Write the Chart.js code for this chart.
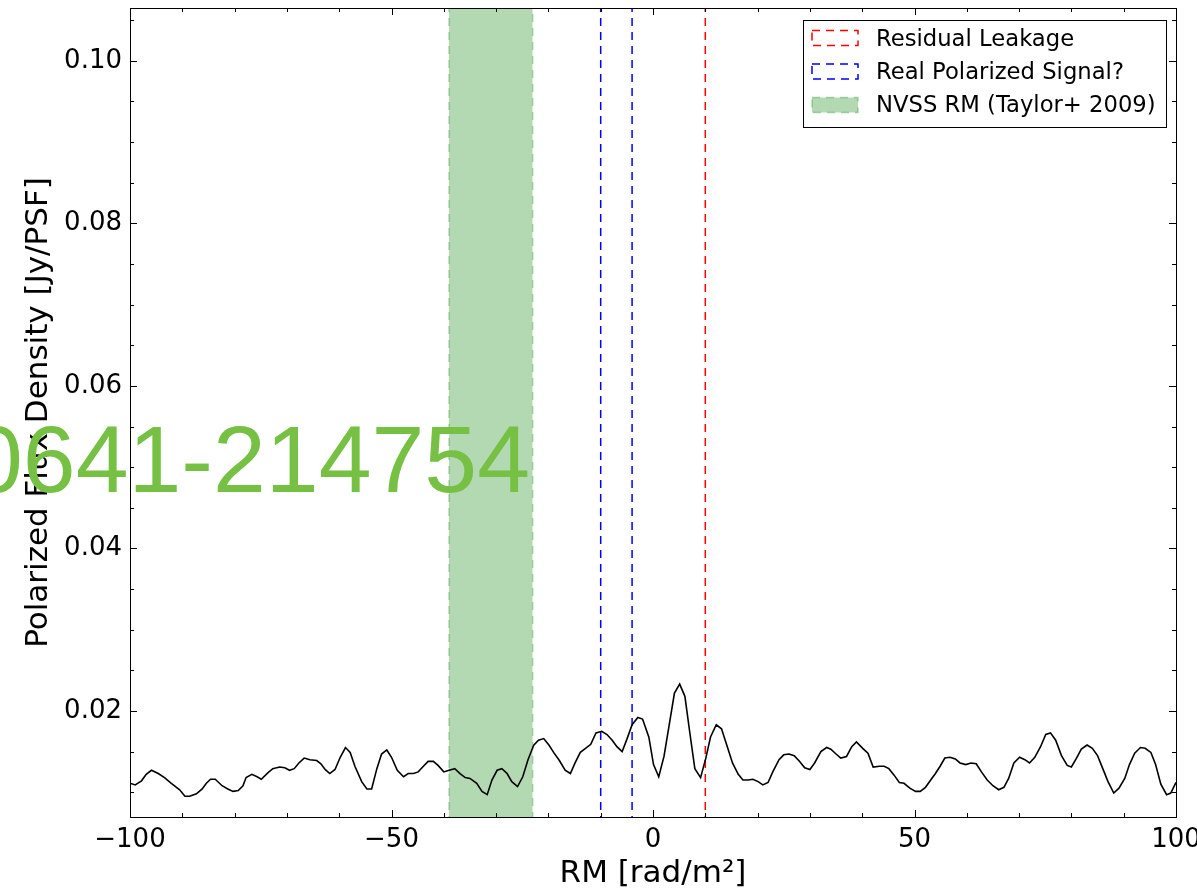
<!DOCTYPE html>
<html>
<head>
<meta charset="utf-8">
<title>RM spectrum</title>
<script src="https://cdn.jsdelivr.net/npm/chart.js@4.4.0/dist/chart.umd.min.js"></script>
<style>
  html, body { margin: 0; padding: 0; background: #fff; }
  #wrap { width: 1197px; height: 896px; }
</style>
</head>
<body>
<div id="wrap"><canvas id="rmChart" width="1197" height="896"></canvas></div>
<script>
// Faraday spectrum: RM [rad/m^2] vs polarized flux density [Jy/PSF]
const rmSamples = [
  -100.0, -99.0, -97.8, -96.9, -95.9, -94.6, -93.4, -92.1, -90.5, -89.5,
  -88.6, -87.3, -86.2, -85.4, -84.6, -83.7, -82.4, -81.3, -80.3, -79.3,
  -78.4, -77.8, -76.7, -75.7, -74.9, -73.6, -72.7, -71.4, -70.4, -69.5,
  -68.6, -67.7, -66.7, -65.6, -64.3, -63.5, -62.7, -61.8, -60.8, -59.8,
  -58.8, -57.9, -57.0, -55.7, -54.7, -53.8, -52.8, -51.9, -50.9, -50.0,
  -48.9, -47.7, -46.8, -45.8, -44.9, -43.9, -43.0, -42.0, -41.1, -40.0,
  -39.0, -37.9, -36.9, -35.9, -35.0, -33.7, -32.7, -31.7, -30.8, -29.8,
  -28.9, -27.9, -27.0, -25.9, -24.9, -23.9, -22.8, -21.9, -20.9, -19.9,
  -19.0, -17.9, -16.8, -15.8, -14.9, -13.9, -12.9, -11.9, -10.9, -9.8,
  -8.8, -7.8, -6.9, -5.9, -5.0, -4.0, -2.9, -2.0, -0.8, 0.1,
  1.1, 2.1, 3.1, 4.1, 5.1, 6.1, 7.0, 8.0, 9.1, 10.1,
  11.0, 12.1, 13.1, 14.1, 15.2, 16.3, 17.2, 18.2, 19.1, 20.1,
  21.0, 22.0, 22.9, 24.1, 25.0, 26.0, 27.0, 28.0, 29.0, 30.0,
  30.9, 32.1, 33.2, 34.0, 35.0, 35.9, 37.0, 38.0, 38.9, 40.1,
  41.1, 42.1, 43.3, 44.2, 45.1, 46.1, 47.1, 48.0, 49.1, 50.2,
  51.1, 52.1, 53.0, 54.0, 54.9, 55.8, 56.8, 57.8, 58.7, 59.8,
  60.8, 61.8, 62.8, 63.9, 65.0, 66.1, 67.1, 68.0, 69.0, 70.1,
  71.1, 72.0, 73.0, 74.1, 75.1, 76.0, 77.0, 78.1, 79.2, 80.0,
  80.9, 81.9, 83.0, 84.0, 85.0, 86.0, 87.0, 88.1, 89.1, 90.2,
  91.1, 92.1, 93.2, 94.1, 95.2, 96.1, 97.1, 98.2, 99.0, 100.0
];
const fluxSamples = [
  0.0111, 0.0109, 0.0114, 0.0122, 0.0127, 0.0123, 0.0118, 0.0111, 0.0103, 0.0095,
  0.0095, 0.0098, 0.0104, 0.0111, 0.0116, 0.0116, 0.0108, 0.0104, 0.0101, 0.0102,
  0.0108, 0.0118, 0.0122, 0.0119, 0.0116, 0.0124, 0.0129, 0.0131, 0.0130, 0.0127,
  0.0129, 0.0136, 0.0142, 0.0140, 0.0139, 0.0135, 0.0128, 0.0123, 0.0128, 0.0143,
  0.0155, 0.0149, 0.0132, 0.0113, 0.0104, 0.0104, 0.0129, 0.0147, 0.0152, 0.0143,
  0.0127, 0.0119, 0.0123, 0.0123, 0.0125, 0.0132, 0.0138, 0.0138, 0.0133, 0.0125,
  0.0127, 0.0129, 0.0123, 0.0118, 0.0117, 0.0111, 0.0101, 0.0097, 0.0115, 0.0127,
  0.0129, 0.0123, 0.0113, 0.0107, 0.0119, 0.0140, 0.0158, 0.0164, 0.0166, 0.0158,
  0.0149, 0.0139, 0.0127, 0.0123, 0.0136, 0.0149, 0.0154, 0.0159, 0.0173, 0.0175,
  0.0171, 0.0164, 0.0156, 0.0150, 0.0165, 0.0183, 0.0192, 0.0190, 0.0168, 0.0134,
  0.0119, 0.0144, 0.0183, 0.0222, 0.0233, 0.0218, 0.0175, 0.0129, 0.0118, 0.0142,
  0.0168, 0.0183, 0.0178, 0.0158, 0.0136, 0.0122, 0.0115, 0.0115, 0.0116, 0.0113,
  0.0109, 0.0112, 0.0125, 0.0140, 0.0146, 0.0147, 0.0145, 0.0138, 0.0130, 0.0128,
  0.0136, 0.0150, 0.0155, 0.0153, 0.0147, 0.0142, 0.0144, 0.0156, 0.0162, 0.0154,
  0.0148, 0.0131, 0.0132, 0.0132, 0.0129, 0.0121, 0.0112, 0.0111, 0.0105, 0.0101,
  0.0101, 0.0106, 0.0114, 0.0123, 0.0132, 0.0142, 0.0143, 0.0141, 0.0136, 0.0134,
  0.0136, 0.0135, 0.0125, 0.0115, 0.0108, 0.0103, 0.0106, 0.0117, 0.0136, 0.0143,
  0.0140, 0.0136, 0.0143, 0.0156, 0.0171, 0.0173, 0.0164, 0.0145, 0.0133, 0.0131,
  0.0141, 0.0153, 0.0158, 0.0154, 0.0145, 0.0129, 0.0113, 0.0099, 0.0105, 0.0117,
  0.0134, 0.0148, 0.0155, 0.0154, 0.0149, 0.0134, 0.0110, 0.0097, 0.0099, 0.0112
];

// marker positions
const leakageRM = [10];
const signalRM = [-10, -4];
const nvssRange = [-39, -23];

// axes
const rmLimits = [-100, 100];
const fluxLimits = [0.00695, 0.1065];
const rmTickLabels = [-100, -50, 0, 50, 100];
const fluxTickLabels = [0.02, 0.04, 0.06, 0.08, 0.10];
const rmMinorStep = 10;
const fluxMinorStep = 0.005;

const legendLabels = ['Residual Leakage', 'Real Polarized Signal?', 'NVSS RM (Taylor+ 2009)'];
const sourceName = '0641-214754';

const FONT = "'DejaVu Sans', sans-serif";
const DASH = [8, 6];
const bandColor = 'rgba(0, 128, 0, 0.3)';

// vertical line(s) spanning far beyond the y range; clipped to the plot area
function vlines(xs) {
  const pts = [];
  xs.forEach((x, i) => {
    if (i > 0) pts.push({ x: x, y: null });
    pts.push({ x: x, y: -1 }, { x: x, y: 1 });
  });
  return pts;
}

const spectrum = rmSamples.map((rm, i) => ({ x: rm, y: fluxSamples[i] }));

// inside ticks on all four sides + axes box + legend
const framePlugin = {
  id: 'frame',
  afterDraw(chart) {
    const ctx = chart.ctx;
    const a = chart.chartArea;
    const xs = chart.scales.x, ys = chart.scales.y;
    ctx.save();
    ctx.strokeStyle = '#000';
    ctx.lineWidth = 1;
    const tick = (x1, y1, x2, y2) => {
      ctx.beginPath(); ctx.moveTo(x1, y1); ctx.lineTo(x2, y2); ctx.stroke();
    };
    for (let v = rmLimits[0]; v <= rmLimits[1] + 1e-9; v += rmMinorStep) {
      const px = Math.round(xs.getPixelForValue(v)) + 0.5;
      const len = rmTickLabels.includes(v) ? 7 : 4;
      tick(px, a.bottom, px, a.bottom - len);
      tick(px, a.top, px, a.top + len);
    }
    for (let k = Math.ceil(fluxLimits[0] / fluxMinorStep); k * fluxMinorStep <= fluxLimits[1]; k++) {
      const v = k * fluxMinorStep;
      const py = Math.round(ys.getPixelForValue(v)) + 0.5;
      const major = fluxTickLabels.some(t => Math.abs(t - v) < 1e-9);
      const len = major ? 7 : 4;
      tick(a.left, py, a.left + len, py);
      tick(a.right, py, a.right - len, py);
    }
    ctx.strokeRect(Math.round(a.left) + 0.5, Math.round(a.top) + 0.5,
      Math.round(a.right - a.left), Math.round(a.bottom - a.top));

    // legend box
    const lx = 803.5, ly = 20.5, lw = 363, lh = 107;
    ctx.fillStyle = '#fff';
    ctx.fillRect(lx, ly, lw, lh);
    ctx.strokeRect(lx, ly, lw, lh);
    const handles = [
      { stroke: 'red', fill: null },
      { stroke: 'blue', fill: null },
      { stroke: bandColor, fill: bandColor }
    ];
    ctx.font = '22.7px ' + FONT;
    ctx.textBaseline = 'alphabetic';
    handles.forEach((h, i) => {
      const top = 30.5 + i * 33.5;
      if (h.fill) {
        ctx.fillStyle = h.fill;
        ctx.fillRect(812, top, 46, 15);
      }
      ctx.save();
      ctx.setLineDash(DASH);
      ctx.lineWidth = 1.5;
      ctx.strokeStyle = h.stroke;
      ctx.strokeRect(812, top, 46, 15);
      ctx.restore();
      ctx.fillStyle = '#000';
      ctx.fillText(legendLabels[i], 876, 46 + i * 33);
    });
    ctx.restore();
  }
};

// source name written across the plot
const namePlugin = {
  id: 'sourceName',
  afterDatasetsDraw(chart) {
    const ctx = chart.ctx;
    ctx.save();
    ctx.font = "95px 'Liberation Sans', Arial, sans-serif";
    ctx.fillStyle = '#76c043';
    ctx.textAlign = 'right';
    ctx.textBaseline = 'alphabetic';
    ctx.fillText(sourceName, 530, 492);
    ctx.restore();
  }
};

new Chart(document.getElementById('rmChart').getContext('2d'), {
  type: 'scatter',
  data: {
    datasets: [
      {
        label: 'spectrum',
        data: spectrum,
        showLine: true,
        borderColor: '#000',
        borderWidth: 1.6,
        pointRadius: 0,
        tension: 0,
        order: 0
      },
      {
        label: legendLabels[0],
        data: vlines(leakageRM),
        showLine: true,
        borderColor: 'red',
        borderWidth: 1.5,
        borderDash: DASH,
        pointRadius: 0,
        spanGaps: false,
        order: 1
      },
      {
        label: legendLabels[1],
        data: vlines(signalRM),
        showLine: true,
        borderColor: 'blue',
        borderWidth: 1.5,
        borderDash: DASH,
        pointRadius: 0,
        spanGaps: false,
        order: 2
      },
      {
        label: legendLabels[2],
        data: [
          { x: nvssRange[0], y: -1 }, { x: nvssRange[0], y: 1 },
          { x: nvssRange[1], y: 1 }, { x: nvssRange[1], y: -1 }
        ],
        showLine: true,
        fill: 'origin',
        backgroundColor: bandColor,
        borderColor: bandColor,
        borderWidth: 1.5,
        borderDash: DASH,
        pointRadius: 0,
        order: 3
      }
    ]
  },
  options: {
    responsive: false,
    devicePixelRatio: 1,
    animation: false,
    layout: { padding: { top: 8, right: 21, left: 0, bottom: 0 } },
    plugins: {
      legend: { display: false },
      tooltip: { enabled: false }
    },
    scales: {
      x: {
        type: 'linear',
        min: rmLimits[0],
        max: rmLimits[1],
        afterBuildTicks: s => { s.ticks = rmTickLabels.map(v => ({ value: v })); },
        afterFit: s => { s.height = 79; s.paddingLeft = 0; s.paddingRight = 0; },
        grid: { display: false, drawTicks: false },
        border: { display: false },
        ticks: {
          autoSkip: false,
          maxRotation: 0,
          padding: 8,
          color: '#000',
          font: { family: FONT, size: 26 },
          callback: v => (v < 0 ? '\u2212' + Math.abs(v) : String(v))
        },
        title: {
          display: true,
          text: 'RM [rad/m\u00b2]',
          color: '#000',
          font: { family: FONT, size: 31 },
          padding: { top: 0, bottom: 3 }
        }
      },
      y: {
        type: 'linear',
        min: fluxLimits[0],
        max: fluxLimits[1],
        z: 1,
        afterBuildTicks: s => { s.ticks = fluxTickLabels.map(v => ({ value: v })); },
        afterFit: s => { s.width = 130; s.paddingTop = 0; s.paddingBottom = 0; },
        grid: { display: false, drawTicks: false },
        border: { display: false },
        ticks: {
          autoSkip: false,
          padding: 8,
          color: '#000',
          font: { family: FONT, size: 26 },
          callback: v => v.toFixed(2)
        },
        title: {
          display: true,
          text: 'Polarized Flux Density [Jy/PSF]',
          color: '#000',
          font: { family: FONT, size: 31 },
          padding: { top: 20, bottom: 0 }
        }
      }
    }
  },
  plugins: [namePlugin, framePlugin]
});
</script>
</body>
</html>
